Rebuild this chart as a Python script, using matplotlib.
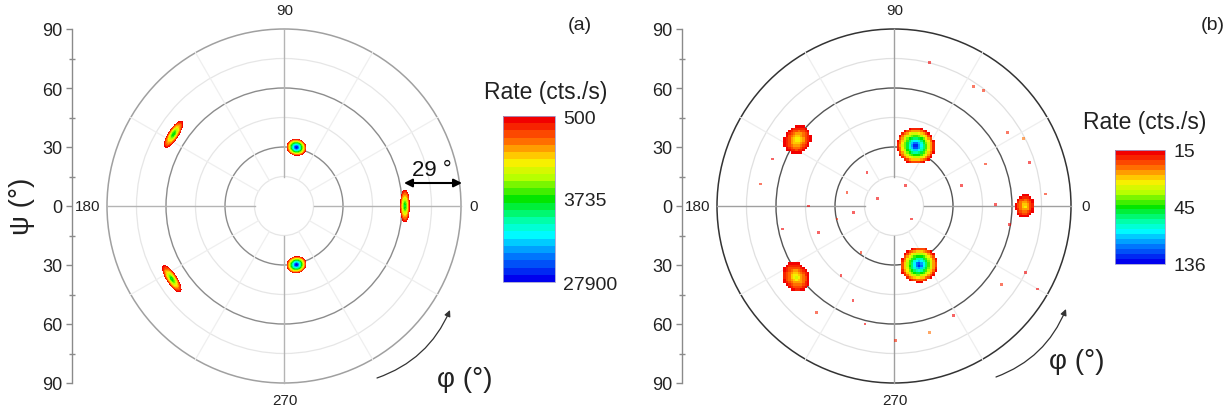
import numpy as np
import matplotlib
matplotlib.use('Agg')
import matplotlib.pyplot as plt
from matplotlib.patches import Circle, FancyArrowPatch
from matplotlib.colors import BoundaryNorm, LinearSegmentedColormap

# ---------------- data ----------------
# Panel (a): pole-figure maxima (phi, psi in degrees, peak rate in cts/s)
a_phi = [78, -78, 0, 147, 213]
a_psi = [30.5, 30.5, 61.5, 67.0, 68.0]
a_peak = [27900, 27900, 4600, 4300, 4300]
a_w_t = [1.2, 1.2, 3.65, 3.6, 3.6]     # tangential spread (deg)
a_w_r = [1.0, 1.0, 1.0, 1.1, 1.1]      # radial spread (deg)
a_levels_range = (500, 27900)
a_ticks = [500, 3735, 27900]

# Panel (b): pole-figure maxima
b_phi = [70, -67, 0, 145.5, 216]
b_psi = [32.5, 32.5, 66.5, 59.5, 61.5]
b_peak = [136, 128, 29, 31, 31]
b_w_t = [4.4, 4.4, 9.0, 10.5, 10.8]
b_w_r = [4.2, 4.2, 7.2, 8.8, 9.0]
b_levels_range = (15, 136)
b_ticks = [15, 45, 136]

# Panel (b): isolated background counts (phi, psi, rate)
b_dot_phi = [76.2, 56.4, 33, 27.4, 17.8, 4.5, 170.6, 191.7, 199.3, 163.7, 128.7, 61,
             323, 234.4, 232.8, 246.6, 234, 256.2, 270.5, 285.6, 298.4, 324, 333.3,
             330, 16.7, 24.7, 1, 351, 180, 192.8, 157, 52.2, 188.7, 158.8]
b_dot_psi = [75.2, 73, 68.9, 74.2, 72.5, 77.4, 68.7, 57.8, 40.5, 24.9, 21.9, 11.8,
             11, 28.9, 44.5, 52.4, 66.8, 61.8, 68.5, 66.7, 63.4, 67.6, 75,
             84.4, 35.8, 51.2, 51.7, 59.5, 43.3, 29.7, 9.3, 74.2, 21, 66.2]
b_dot_rate = [16, 18, 17, 20, 16, 17, 18, 16, 16, 17, 16, 16,
              16, 17, 16, 16, 17, 16, 18, 20, 16, 17, 16,
              16, 16, 17, 16, 16, 16, 17, 16, 18, 16, 16]

psi_major = [-90, -60, -30, 0, 30, 60, 90]
psi_minor = [-75, -45, -15, 15, 45, 75]

# colour scale: low rate red -> high rate blue
rate_cmap = LinearSegmentedColormap.from_list(
    'rate', [(0.0, '#f20000'), (0.12, '#ff6000'), (0.26, '#ffee00'), (0.36, '#b8ff00'),
             (0.5, '#00e600'), (0.62, '#00ff99'), (0.72, '#00ffff'), (0.84, '#0088ff'),
             (1.0, '#0000ee')])

# ---------------- figure ----------------
plt.rcParams['font.family'] = ['Liberation Sans', 'DejaVu Sans']
W, H = 1226, 414
fig = plt.figure(figsize=(W / 100, H / 100), dpi=100)
S = 354 / 180.0  # pixels per degree


def fx(px):
    return px / W


def fy(py):
    return 1 - py / H


def make_axes(spine_px, center_px, right_px):
    ax = fig.add_axes([fx(spine_px), fy(384), (right_px - spine_px) / W, 354 / H])
    ax.set_xlim(-(center_px - spine_px) / S, (right_px - center_px) / S)
    ax.set_ylim(-90, 90)
    for s in ['top', 'right', 'bottom']:
        ax.spines[s].set_visible(False)
    ax.spines['left'].set_color('#8a8a8a')
    ax.spines['left'].set_linewidth(1.0)
    ax.set_xticks([])
    ax.set_yticks(psi_major)
    ax.set_yticklabels([str(abs(v)) for v in psi_major])
    ax.set_yticks(psi_minor, minor=True)
    ax.tick_params(axis='y', which='major', direction='out', length=4, width=1,
                   color='#8a8a8a', labelsize=13, labelcolor='#222222', pad=3)
    ax.tick_params(axis='y', which='minor', direction='inout', length=4, width=1,
                   color='#8a8a8a')
    ax.patch.set_alpha(0)
    return ax


def draw_grid(ax, outer_c, main_c, light_c, spoke_c, axis_c):
    for r in [15, 45, 75]:
        ax.add_patch(Circle((0, 0), r, fill=False, ec=light_c, lw=0.9, zorder=1))
    for r in [30, 60]:
        ax.add_patch(Circle((0, 0), r, fill=False, ec=main_c, lw=1.0, zorder=1))
    ax.add_patch(Circle((0, 0), 90, fill=False, ec=outer_c, lw=1.1, zorder=1, clip_on=False))
    for ang in [30, 60, 120, 150, 210, 240, 300, 330]:
        t = np.deg2rad(ang)
        ax.plot([15 * np.cos(t), 90 * np.cos(t)], [15 * np.sin(t), 90 * np.sin(t)],
                color=spoke_c, lw=0.9, zorder=1)
    for ang in [0, 90, 180, 270]:
        t = np.deg2rad(ang)
        ax.plot([15 * np.cos(t), 90 * np.cos(t)], [15 * np.sin(t), 90 * np.sin(t)],
                color=axis_c, lw=1.0, zorder=1, clip_on=False)


def field(X, Y, phis, psis, peaks, wt, wr):
    Z = np.zeros_like(X)
    for ph, ps, pk, a, b in zip(phis, psis, peaks, wt, wr):
        t = np.deg2rad(ph)
        x0, y0 = ps * np.cos(t), ps * np.sin(t)
        dx, dy = X - x0, Y - y0
        dr = dx * np.cos(t) + dy * np.sin(t)
        dt = -dx * np.sin(t) + dy * np.cos(t)
        Z += pk * np.exp(-np.sqrt((dr / b) ** 2 + (dt / a) ** 2))
    return Z


def colorbar(mappable, x0, y0, x1, y1, ticks, title, title_xy):
    cax = fig.add_axes([fx(x0), fy(y1), (x1 - x0) / W, (y1 - y0) / H])
    cb = fig.colorbar(mappable, cax=cax, ticks=ticks)
    cb.ax.set_yticklabels([str(t) for t in ticks])
    cb.ax.minorticks_off()
    cb.ax.invert_yaxis()
    cb.ax.tick_params(length=0, labelsize=14, pad=6, labelcolor='#222222')
    cb.outline.set_linewidth(0.6)
    cb.outline.set_edgecolor('#a0a0d0')
    fig.text(fx(title_xy[0]), fy(title_xy[1]), title, ha='center', va='center',
             fontsize=16.5, color='#222222')
    return cb


# ---------------- panel (a) ----------------
ca = 284
axa = make_axes(72, ca, 480)
draw_grid(axa, '#a0a0a0', '#8c8c8c', '#e6e6e6', '#efefef', '#b4b4b4')
g = np.linspace(-92, 92, 1201)
X, Y = np.meshgrid(g, g)
Za = field(X, Y, a_phi, a_psi, a_peak, a_w_t, a_w_r)
lev_a = np.geomspace(*a_levels_range, 24)
norm_a = BoundaryNorm(lev_a, 256)
cs_a = axa.contourf(X, Y, np.clip(Za, 0, a_levels_range[1] * 0.999), levels=lev_a,
                    cmap=rate_cmap, norm=norm_a, zorder=2)
colorbar(cs_a, 503, 117, 555, 283, a_ticks, 'Rate (cts./s)', (546, 92))

# 29 degree annotation
axa.annotate('', xy=((462 - ca) / S, (207 - 184) / S), xytext=((404 - ca) / S, (207 - 184) / S),
             arrowprops=dict(arrowstyle='<|-|>', color='black', lw=1.5,
                             mutation_scale=12, shrinkA=0, shrinkB=0),
             annotation_clip=False)
fig.text(fx(432), fy(170), '29 °', ha='center', va='center', fontsize=16, color='#111111')

# ---------------- panel (b) ----------------
cb_ = 894
axb = make_axes(682, cb_, 1085)
draw_grid(axb, '#333333', '#555555', '#e0e0e0', '#eeeeee', '#a0a0a0')
gb = np.arange(-91, 91.01, 1.2)
Xb, Yb = np.meshgrid(gb, gb)
Xc, Yc = 0.5 * (Xb[:-1, :-1] + Xb[1:, 1:]), 0.5 * (Yb[:-1, :-1] + Yb[1:, 1:])
Zb = field(Xc, Yc, b_phi, b_psi, b_peak, b_w_t, b_w_r)
Zb = np.ma.masked_less(Zb, b_levels_range[0])
lev_b = np.geomspace(*b_levels_range, 24)
norm_b = BoundaryNorm(lev_b, 256)
pm = axb.pcolormesh(Xb, Yb, Zb, cmap=rate_cmap, norm=norm_b, zorder=2)
dt = np.deg2rad(b_dot_phi)
axb.scatter(np.array(b_dot_psi) * np.cos(dt), np.array(b_dot_psi) * np.sin(dt),
            c=b_dot_rate, cmap=rate_cmap, norm=norm_b, s=4, marker='s', linewidths=0,
            alpha=0.6, zorder=3)
colorbar(pm, 1115, 151, 1165, 265, b_ticks, 'Rate (cts./s)', (1145, 122))

# ---------------- labels ----------------
for cx, lab_180, lab_0 in [(ca, 88, 474), (cb_, 698, 1086)]:
    fig.text(fx(cx + 1), fy(11), '90', ha='center', va='center', fontsize=11, color='#222222')
    fig.text(fx(cx + 1), fy(401), '270', ha='center', va='center', fontsize=11, color='#222222')
    fig.text(fx(lab_180), fy(207), '180', ha='center', va='center', fontsize=11, color='#222222')
    fig.text(fx(lab_0), fy(207), '0', ha='center', va='center', fontsize=11, color='#222222')

fig.text(fx(580), fy(26), '(a)', ha='center', va='center', fontsize=14, color='#222222')
fig.text(fx(1213), fy(26), '(b)', ha='center', va='center', fontsize=14, color='#222222')
fig.text(fx(22), fy(206), 'ψ (°)', ha='center', va='center', fontsize=20, rotation=90,
         color='#222222')

# phi arrows
for ax, c, p0, p1, txy in [(axa, ca, (377, 379), (450, 311), (465, 380)),
                           (axb, cb_, (996, 378), (1066, 310), (1077, 362))]:
    a = FancyArrowPatch(((p0[0] - c) / S, (207 - p0[1]) / S), ((p1[0] - c) / S, (207 - p1[1]) / S),
                        connectionstyle='arc3,rad=0.22', arrowstyle='-|>', mutation_scale=9,
                        color='#333333', lw=0.9, clip_on=False, shrinkA=0, shrinkB=0)
    ax.add_patch(a)
    fig.text(fx(txy[0]), fy(txy[1]), 'φ (°)', ha='center', va='center', fontsize=20,
             color='#222222')

fig.savefig('out.png', dpi=100)
